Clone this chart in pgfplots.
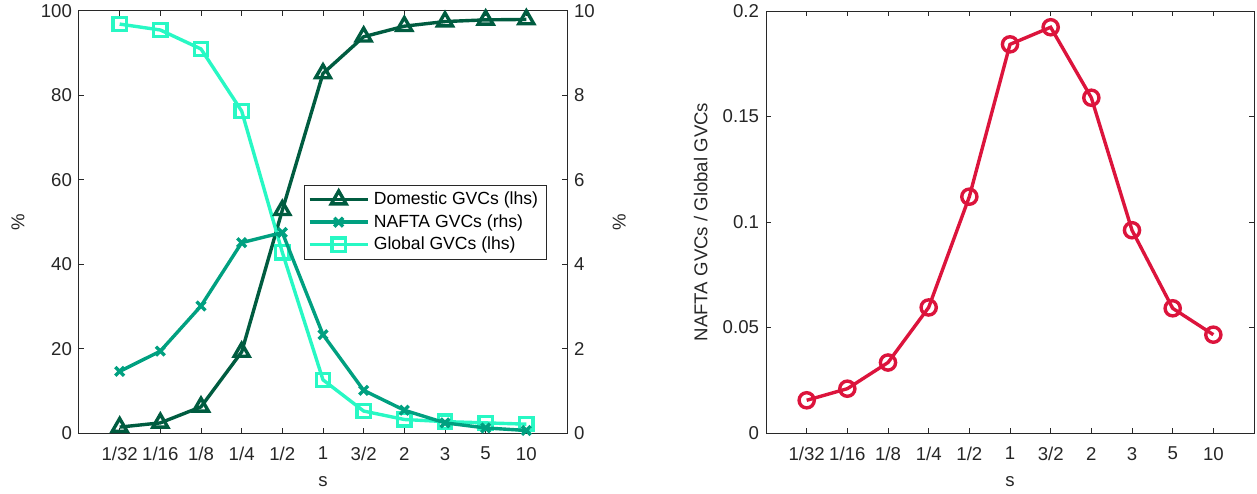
\documentclass[border=0pt]{standalone}
\usepackage{pgfplots}
\pgfplotsset{compat=1.18}
\usepackage{fontspec}
\setmainfont{Liberation Sans}
\definecolor{cdom}{RGB}{0,92,64}
\definecolor{cnaf}{RGB}{0,160,128}
\definecolor{cglo}{RGB}{40,248,196}
\definecolor{cred}{RGB}{220,20,60}
\definecolor{caxis}{RGB}{40,40,40}

\pgfplotstableread{
x dom naf glo ratio
0  1.4  1.46 96.9 0.0155
1  2.4  1.94 95.5 0.0210
2  6.2  3.01 91.0 0.0334
3  19.2 4.51 76.3 0.0595
4  52.8 4.75 42.8 0.1120
5  85.2 2.33 12.6 0.1842
6  93.9 1.01 5.2  0.1923
7  96.4 0.54 3.2  0.1589
8  97.5 0.24 2.7  0.0961
9  97.9 0.12 2.4  0.0591
10 98.0 0.06 2.1  0.0466
}\datatable

\pgfplotsset{
  common/.style={
    width=244pt, height=211pt, scale only axis,
    xmin=-1, xmax=11,
    xtick={0,...,10},
    xticklabels={1/32,1/16,1/8,1/4,1/2,1,3/2,2,3,5,10},
    tick align=inside,
    major tick length=2.5pt,
    axis line style={caxis, line width=0.5pt},
    every tick/.style={caxis, line width=0.5pt},
    tick label style={font=\fontsize{9.3}{11}\selectfont, text=black!85},
    xticklabel style={yshift=-3.5pt},
    label style={font=\fontsize{9.3}{11}\selectfont, text=black!85},
    /pgf/number format/assume math mode=true,
    xlabel={s},
    xlabel style={at={(axis description cs:0.5,-0.114)}, anchor=center},
    ymin=0,
  },
  legline/.style={
    legend image code/.code={
      \draw[mark repeat=2, mark phase=2] plot coordinates {(0pt,0pt) (14.5pt,0pt) (29pt,0pt)};
    }
  },
  sdom/.style={cdom, line width=1.7pt, mark=triangle, mark size=4.3pt, mark options={solid, line width=1.7pt}, legline},
  snaf/.style={cnaf, line width=1.7pt, mark=x, mark size=3.1pt, mark options={solid, line width=1.7pt}, legline},
  sglo/.style={cglo, line width=1.7pt, mark=square, mark size=3.3pt, mark options={solid, line width=1.7pt}, legline},
}

\begin{document}
\begin{tikzpicture}
\useasboundingbox (-39.5pt,-30pt) rectangle (589pt,216.5pt);
% left chart, lhs
\begin{axis}[common,
  ymax=100, ytick={0,20,...,100},
  ytick pos=left,
  ylabel={\%},
  ylabel style={at={(axis description cs:-0.125,0.5)}, anchor=center},
]
\addplot[sdom] table[x=x,y=dom] {\datatable};
\addplot[sglo] table[x=x,y=glo] {\datatable};
\end{axis}
% left chart, rhs
\begin{axis}[common,
  ymax=10, ytick={0,2,...,10},
  ytick pos=right, yticklabel pos=right,
  axis x line=none,
  xlabel={},
  ylabel={\%},
  ylabel style={at={(axis description cs:1.107,0.5)}, anchor=center},
  legend cell align=left,
  legend style={at={(axis description cs:0.959,0.588)}, anchor=north east,
    draw=caxis, line width=0.5pt, font=\fontsize{8.8}{10}\selectfont,
    inner xsep=2pt, inner ysep=1pt, row sep=-1pt,
    nodes={inner sep=2.2pt}},
]
\addlegendimage{sdom}
\addlegendentry{Domestic GVCs (lhs)}
\addplot[snaf] table[x=x,y=naf] {\datatable};
\addlegendentry{NAFTA GVCs (rhs)}
\addlegendimage{sglo}
\addlegendentry{Global GVCs (lhs)}
\end{axis}
% right chart
\begin{axis}[common, at={(343.5pt,0pt)},
  ymax=0.2, ytick={0,0.05,0.1,0.15,0.2},
  scaled y ticks=false,
  yticklabel style={/pgf/number format/fixed, /pgf/number format/precision=2},
  ylabel={NAFTA GVCs / Global GVCs},
  ylabel style={at={(axis description cs:-0.134,0.5)}, anchor=center},
]
\addplot[cred, line width=1.7pt, mark=o, mark size=3.8pt, mark options={solid, line width=1.7pt}] table[x=x,y=ratio] {\datatable};
\end{axis}
\end{tikzpicture}
\end{document}
